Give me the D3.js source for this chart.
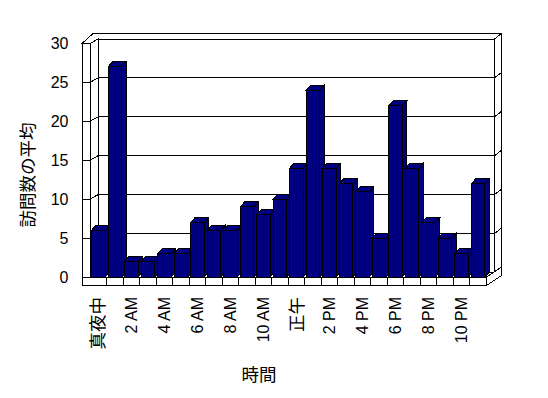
<!DOCTYPE html>
<html>
<head>
<meta charset="utf-8">
<script src="https://cdn.jsdelivr.net/npm/d3@7"></script>
<style>
body { margin: 0; background: #fff; }
svg { display: block; }
text { font-family: "Liberation Sans", Arial, "Noto Sans CJK JP", sans-serif; fill: #000; }
</style>
</head>
<body>
<div id="chart"></div>
<script>
var w = 548, h = 398;

// hour categories (only every other one gets a label)
var hours = ["真夜中", "1 AM", "2 AM", "3 AM", "4 AM", "5 AM", "6 AM", "7 AM", "8 AM", "9 AM", "10 AM", "11 AM",
    "正午", "1 PM", "2 PM", "3 PM", "4 PM", "5 PM", "6 PM", "7 PM", "8 PM", "9 PM", "10 PM", "11 PM"];
// average visits per hour
var visits = [6, 27, 2, 2, 3, 3, 7, 6, 6, 9, 8, 10, 14, 24, 14, 12, 11, 5, 22, 14, 7, 5, 3, 12];
var yTicks = [0, 5, 10, 15, 20, 25, 30];
var yTitle = "訪問数の平均", xTitle = "時間";

var x = d3.scaleBand().domain(hours).range([90, 486.5]);
var y = d3.scaleLinear().domain([0, 30]).range([277, 43.5]);

// fake 3d offsets, excel style
var dep = [8, -4.5];      // floor front -> back wall
var thick = [7, -5.5];    // back wall thickness
var barDep = [4.5, -5];   // bar depth
var wallL = 82, floorB = 285.5;

var x0 = x.range()[0], x1 = x.range()[1], yT = y(30), yB = y(0);

var svg = d3.select("#chart").append("svg")
    .attr("width", w).attr("height", h);

function poly(pts) {
    return "M" + pts.map(function (p) { return p[0] + "," + p[1]; }).join("L") + "Z";
}

var frame = svg.append("g")
    .attr("fill", "#fff").attr("stroke", "#000")
    .attr("shape-rendering", "crispEdges");

// top of the walls
frame.append("path").attr("d", poly([
    [wallL, yT], [wallL + 11, yT + dep[1] + thick[1]],
    [x1 + dep[0] + thick[0], yT + dep[1] + thick[1]], [x1 + dep[0], yT + dep[1]],
    [x0 + dep[0], yT + dep[1]], [x0, yT]]));
frame.append("line")
    .attr("x1", wallL).attr("y1", yT).attr("x2", x0).attr("y2", yT);

// back wall
frame.append("rect")
    .attr("x", x0 + dep[0]).attr("y", yT + dep[1])
    .attr("width", x1 - x0).attr("height", yB - yT);
// back wall right face
frame.append("path").attr("d", poly([
    [x1 + dep[0], yT + dep[1]], [x1 + dep[0] + thick[0], yT + dep[1] + thick[1]],
    [x1 + dep[0] + thick[0], yB + dep[1] + thick[1]], [x1 + dep[0], yB + dep[1]]]));
// left wall inner face
frame.append("path").attr("d", poly([
    [x0, yT], [x0 + dep[0], yT + dep[1]], [x0 + dep[0], yB + dep[1]], [x0, yB]]));
// left wall front
frame.append("rect")
    .attr("x", wallL).attr("y", yT)
    .attr("width", x0 - wallL).attr("height", yB - yT);

// gridlines + wall ticks
var grid = frame.append("g").attr("fill", "none");
yTicks.forEach(function (v) {
    var yy = y(v);
    grid.append("path").attr("d",
        "M" + wallL + "," + yy + "L" + x0 + "," + yy +
        "L" + (x0 + dep[0]) + "," + (yy + dep[1]) +
        "L" + (x1 + dep[0]) + "," + (yy + dep[1]) +
        "L" + (x1 + dep[0] + thick[0]) + "," + (yy + dep[1] + thick[1]));
});

// floor
frame.append("path").attr("d", poly([
    [x0, yB], [x1, yB], [x1 + dep[0], yB + dep[1]], [x0 + dep[0], yB + dep[1]]]));
frame.append("path").attr("d", poly([
    [x1, yB], [x1, floorB],
    [x1 + dep[0] + thick[0], floorB + dep[1] + thick[1]],
    [x1 + dep[0] + thick[0], yB + dep[1] + thick[1]]]));
frame.append("rect")
    .attr("x", wallL).attr("y", yB)
    .attr("width", x1 - wallL).attr("height", floorB - yB);
frame.selectAll("line.div")
    .data(hours.slice(1))
    .enter().append("line")
    .attr("class", "div")
    .attr("x1", function (d) { return x(d); }).attr("x2", function (d) { return x(d); })
    .attr("y1", yB).attr("y2", floorB);

// bars
var bw = 13.5, boff = 1.5;
var bars = svg.append("g")
    .attr("fill", "#000080").attr("stroke", "#000")
    .attr("shape-rendering", "crispEdges")
    .selectAll("g.bar")
    .data(hours.map(function (d, i) { return { hour: d, v: visits[i] }; }))
    .enter().append("g").attr("class", "bar")
    .each(function (d) {
        var g = d3.select(this);
        var bx = x(d.hour) + boff, top = y(d.v);
        // side
        g.append("path").attr("d", poly([
            [bx + bw, top], [bx + bw + barDep[0], top + barDep[1]],
            [bx + bw + barDep[0], yB + barDep[1]], [bx + bw, yB]]));
        // top
        g.append("path").attr("d", poly([
            [bx, top], [bx + barDep[0], top + barDep[1]],
            [bx + bw + barDep[0], top + barDep[1]], [bx + bw, top]]));
        // front
        g.append("rect").attr("x", bx).attr("y", top)
            .attr("width", bw).attr("height", yB - top);
    });

// y tick labels
svg.append("g").selectAll("text")
    .data(yTicks)
    .enter().append("text")
    .attr("x", 68.5)
    .attr("y", function (d) { return y(d); })
    .attr("dy", "0.35em")
    .attr("text-anchor", "end")
    .attr("font-size", "16px")
    .text(function (d) { return d; });

// x tick labels, every other hour
var isCJK = function (s) { return /[^\x00-\x7f]/.test(s); };
svg.append("g").selectAll("text")
    .data(hours.filter(function (d, i) { return i % 2 === 0; }))
    .enter().append("text")
    .attr("transform", function (d) {
        return "translate(" + (x(d) + x.bandwidth() / 2) + ",297) rotate(-90)";
    })
    .attr("dy", "0.35em")
    .attr("text-anchor", "end")
    .attr("font-size", function (d) { return isCJK(d) ? "17.5px" : "16px"; })
    .text(function (d) { return d; });

// axis titles
svg.append("text")
    .attr("transform", "translate(28,175) rotate(-90)")
    .attr("dy", "0.35em")
    .attr("text-anchor", "middle")
    .attr("font-size", "17.5px")
    .text(yTitle);
svg.append("text")
    .attr("x", 259).attr("y", 375)
    .attr("dy", "0.35em")
    .attr("text-anchor", "middle")
    .attr("font-size", "17.5px")
    .text(xTitle);
</script>
</body>
</html>
